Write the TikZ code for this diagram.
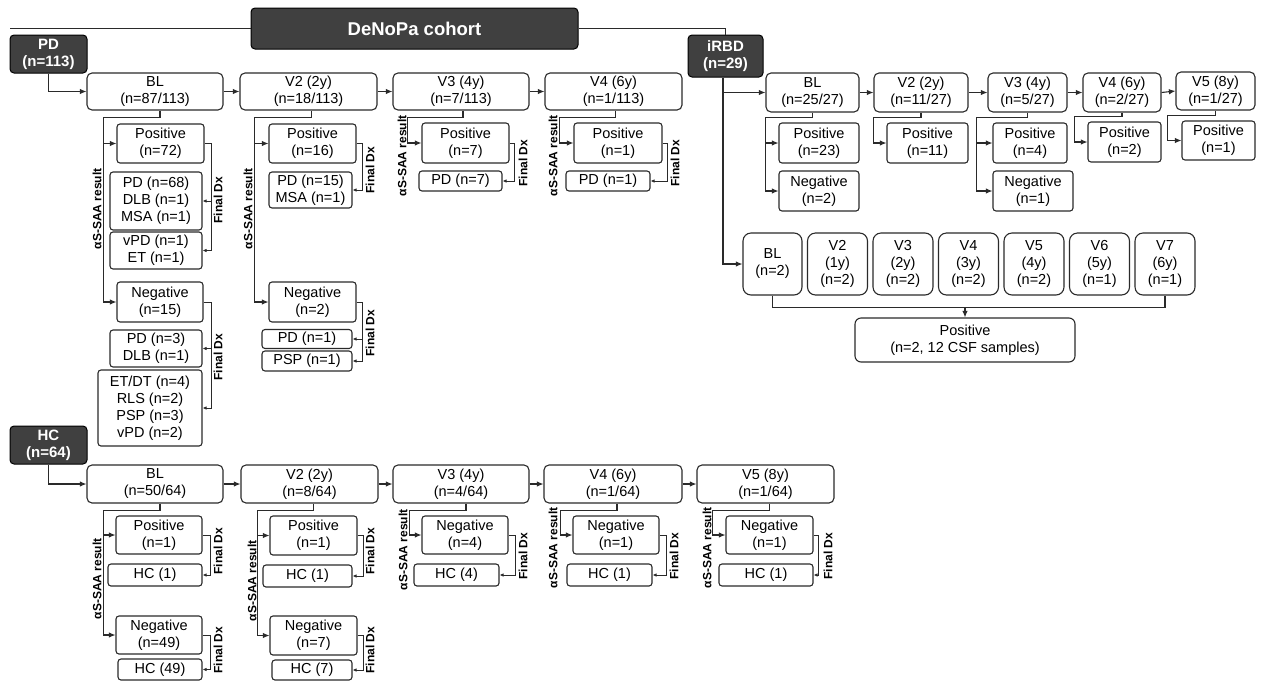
\documentclass[tikz,border=0pt]{standalone}
\usepackage{fontspec}
\setmainfont{Liberation Sans}
\usepackage{tikz}
\usetikzlibrary{positioning}
\usetikzlibrary{arrows.meta}
\definecolor{boxdark}{HTML}{404040}
\definecolor{linegray}{HTML}{2A2A2A}

\begin{document}
\begin{tikzpicture}[
x=1pt, y=-1pt,
darkrect/.style 2 args={rectangle, rounded corners=4pt, draw=black, line width=1pt, fill=boxdark, text=white, align=center, inner sep=0pt, minimum width=#1, minimum height=#2, font=\bfseries\fontsize{15}{17}\selectfont},
rect/.style 2 args={rectangle, rounded corners=5pt, draw=linegray, line width=1.1pt, fill=white, align=center, inner sep=0pt, minimum width=#1, minimum height=#2, font=\fontsize{14.5}{17}\selectfont},
subrect/.style 2 args={rect={#1}{#2}, rounded corners=3pt},
smallrect/.style 2 args={rect={#1}{#2}, rounded corners=8pt},
plain/.style={draw=linegray, line width=1.1pt},
conn/.style={draw=linegray, line width=1.1pt, -{Latex[length=6.5pt,width=5.5pt]}},
dxconn/.style={draw=linegray, line width=0.9pt, -{Latex[length=4pt,width=3.5pt]}},
sidelabel/.style={rotate=90, inner sep=0pt, font=\bfseries\fontsize{12}{12}\selectfont},
]
\useasboundingbox (0,0) rectangle (1261,681);

% cohort header
\node[darkrect={327}{41}, font=\bfseries\fontsize{18.5}{20}\selectfont] (denopa) at (414.5,28.5) {DeNoPa cohort};
\node[darkrect={77}{38}] (pd) at (48.5,54) {PD\\(n=113)};
\node[darkrect={75}{42}] (irbd) at (725.5,56) {iRBD\\(n=29)};
\node[darkrect={77}{38}] (hc) at (48.5,445) {HC\\(n=64)};
\coordinate (topleft) at (10,28.5);
\draw[plain] (topleft) -- (denopa.west);
\draw[plain] (denopa.east) -| (irbd.north);

% PD visits
\node[rect={136}{37}] (pdbl) at (155,91.5) {BL\\(n=87/113)};
\node[rect={137}{37}] (pdv2) at (308.5,91.5) {V2 (2y)\\(n=18/113)};
\node[rect={136}{37}] (pdv3) at (461,91.5) {V3 (4y)\\(n=7/113)};
\node[rect={137}{37}] (pdv4) at (613.5,91.5) {V4 (6y)\\(n=1/113)};
\draw[conn] (pd.south) |- (pdbl.west);
\draw[conn] (pdbl.east) -- (pdv2.west);
\draw[conn] (pdv2.east) -- (pdv3.west);
\draw[conn] (pdv3.east) -- (pdv4.west);

% PD BL
\node[subrect={87}{39}] (pdpos1) at (160.5,143.5) {Positive\\(n=72)};
\node[subrect={92}{58}] (pdfx1a) at (156,201) {PD (n=68)\\DLB (n=1)\\MSA (n=1)};
\node[subrect={92}{37}] (pdfx1b) at (156,250.5) {vPD (n=1)\\ET (n=1)};
\node[subrect={86}{40}] (pdneg1) at (160,302) {Negative\\(n=15)};
\node[subrect={92}{37}] (pdfx1c) at (156,348.5) {PD (n=3)\\DLB (n=1)};
\node[subrect={104}{76}] (pdfx1d) at (150,408) {ET/DT (n=4)\\RLS (n=2)\\PSP (n=3)\\vPD (n=2)};
\draw[conn] ([xshift=5pt]pdbl.south) -- ++(0,7) -| ([xshift=-13pt]pdneg1.west) -- (pdneg1.west);
\draw[conn] ([xshift=-13pt]pdpos1.west) -- (pdpos1.west);
\draw[dxconn] (pdpos1.east) -- ++(7,0) coordinate (pddx1) |- (pdfx1b.east);
\draw[dxconn] (pddx1 |- pdfx1a.east) -- (pdfx1a.east);
\draw[dxconn] (pdneg1.east) -- ++(8,0) coordinate (pddx2) |- (pdfx1d.east);
\draw[dxconn] (pddx2 |- pdfx1c.east) -- (pdfx1c.east);
\node[sidelabel] (pdsaa1) at (97,209) {αS-SAA result};
\node[sidelabel] (pddxl1) at (218,200) {Final Dx};
\node[sidelabel] (pddxl2) at (218,357) {Final Dx};

% PD V2
\node[subrect={87}{39}] (pdpos2) at (312.5,143.5) {Positive\\(n=16)};
\node[subrect={83}{36}] (pdfx2a) at (310.5,190) {PD (n=15)\\MSA (n=1)};
\node[subrect={87}{40}] (pdneg2) at (312.5,302) {Negative\\(n=2)};
\node[subrect={90}{19}] (pdfx2b) at (307,339) {PD (n=1)};
\node[subrect={90}{20}] (pdfx2c) at (307,361) {PSP (n=1)};
\draw[conn] ([xshift=3pt]pdv2.south) -- ++(0,7) -| ([xshift=-14pt]pdneg2.west) -- (pdneg2.west);
\draw[conn] ([xshift=-14pt]pdpos2.west) -- (pdpos2.west);
\draw[dxconn] (pdpos2.east) -- ++(6,0) |- (pdfx2a.east);
\draw[dxconn] (pdneg2.east) -- ++(6,0) coordinate (pddx3) |- (pdfx2c.east);
\draw[dxconn] (pddx3 |- pdfx2b.east) -- (pdfx2b.east);
\node[sidelabel] (pdsaa2) at (248,209) {αS-SAA result};
\node[sidelabel] (pddxl3) at (370,170) {Final Dx};
\node[sidelabel] (pddxl4) at (370,333) {Final Dx};

% PD V3, V4
\node[subrect={87}{40}] (pdpos3) at (465.5,143) {Positive\\(n=7)};
\node[subrect={83}{20}] (pdfx3) at (460.5,181) {PD (n=7)};
\draw[conn] ([xshift=2pt]pdv3.south) -- ++(0,7) -| ([xshift=-14pt]pdpos3.west) -- (pdpos3.west);
\draw[dxconn] (pdpos3.east) -- ++(5,0) |- (pdfx3.east);
\node[sidelabel] (pdsaa3) at (402,156) {αS-SAA result};
\node[sidelabel] (pddxl5) at (523,163) {Final Dx};

\node[subrect={88}{40}] (pdpos4) at (618,143) {Positive\\(n=1)};
\node[subrect={84}{20}] (pdfx4) at (608,181) {PD (n=1)};
\draw[conn] ([xshift=2pt]pdv4.south) -- ++(0,7) -| ([xshift=-14pt]pdpos4.west) -- (pdpos4.west);
\draw[dxconn] (pdpos4.east) -- ++(5,0) |- (pdfx4.east);
\node[sidelabel] (pdsaa4) at (553,156) {αS-SAA result};
\node[sidelabel] (pddxl6) at (675,163) {Final Dx};

% iRBD visits
\node[rect={93}{39}] (rbl) at (812.5,92.5) {BL\\(n=25/27)};
\node[rect={94}{39}] (rv2) at (921,92.5) {V2 (2y)\\(n=11/27)};
\node[rect={79}{39}] (rv3) at (1027.5,92.5) {V3 (4y)\\(n=5/27)};
\node[rect={78}{39}] (rv4) at (1122,92.5) {V4 (6y)\\(n=2/27)};
\node[rect={79}{38}] (rv5) at (1215.5,91) {V5 (8y)\\(n=1/27)};
\draw[conn] (rbl.east) -- (rv2.west);
\draw[conn] (rv2.east) -- (rv3.west);
\draw[conn] (rv3.east) -- (rv4.west);
\draw[conn] (rv4.east) -- (rv5.west);

\node[subrect={80}{40}] (rpos1) at (819,143) {Positive\\(n=23)};
\node[subrect={80}{40}] (rneg1) at (819,191) {Negative\\(n=2)};
\node[subrect={81}{40}] (rpos2) at (927.5,143) {Positive\\(n=11)};
\node[subrect={74}{40}] (rpos3) at (1030,143) {Positive\\(n=4)};
\node[subrect={80}{40}] (rneg3) at (1033,191) {Negative\\(n=1)};
\node[subrect={73}{40}] (rpos4) at (1124.5,142) {Positive\\(n=2)};
\node[subrect={73}{39}] (rpos5) at (1218.5,140.5) {Positive\\(n=1)};
\draw[conn] (rbl.south) -- ++(0,5) -| ([xshift=-13pt]rneg1.west) -- (rneg1.west);
\draw[conn] ([xshift=-13pt]rpos1.west) -- (rpos1.west);
\draw[conn] (rv2.south) -- ++(0,5) -| ([xshift=-13pt]rpos2.west) -- (rpos2.west);
\draw[conn] (rv3.south) -- ++(0,5) -| ([xshift=-16pt]rneg3.west) -- (rneg3.west);
\draw[conn] ([xshift=-16pt]rpos3.west) -- (rpos3.west);
\draw[conn] (rv4.south) -- ++(0,4) -| ([xshift=-13pt]rpos4.west) -- (rpos4.west);
\draw[conn] (rv5.south) -- ++(0,5) -| ([xshift=-14pt]rpos5.west) -- (rpos5.west);

% iRBD CSF samples
\node[smallrect={59}{62}] (sbl) at (772.5,264) {BL\\(n=2)};
\node[smallrect={60}{62}] (sv2) [right=4.4pt of sbl] {V2\\(1y)\\(n=2)};
\node[smallrect={60}{62}] (sv3) [right=4.4pt of sv2] {V3\\(2y)\\(n=2)};
\node[smallrect={60}{62}] (sv4) [right=4.4pt of sv3] {V4\\(3y)\\(n=2)};
\node[smallrect={60}{62}] (sv5) [right=4.4pt of sv4] {V5\\(4y)\\(n=2)};
\node[smallrect={60}{62}] (sv6) [right=4.4pt of sv5] {V6\\(5y)\\(n=1)};
\node[smallrect={60}{62}] (sv7) [right=4.4pt of sv6] {V7\\(6y)\\(n=1)};
\node[subrect={220}{44}, rounded corners=6pt] (spos) at (965,340) {Positive\\(n=2, 12 CSF samples)};
\draw[plain] (sbl.south) -- ++(0,12) coordinate (smerge) -| (sv7.south);
\draw[conn] (smerge -| spos.north) -- (spos.north);
\draw[conn] ([xshift=-2.5pt]irbd.south) |- (rbl.west);
\draw[conn] ([xshift=-2.5pt]irbd.south) |- (sbl.west);

% HC visits
\node[rect={136}{38}] (hbl) at (155,484) {BL\\(n=50/64)};
\node[rect={137}{38}] (hv2) at (309.5,484) {V2 (2y)\\(n=8/64)};
\node[rect={136}{38}] (hv3) at (461,484) {V3 (4y)\\(n=4/64)};
\node[rect={138}{38}] (hv4) at (613,484) {V4 (6y)\\(n=1/64)};
\node[rect={137}{38}] (hv5) at (765.5,484) {V5 (8y)\\(n=1/64)};
\draw[conn] (hc.south) |- (hbl.west);
\draw[conn] (hbl.east) -- (hv2.west);
\draw[conn] (hv2.east) -- (hv3.west);
\draw[conn] (hv3.east) -- (hv4.west);
\draw[conn] (hv4.east) -- (hv5.west);

% HC BL, V2
\node[subrect={86}{38}] (hpos1) at (159,535) {Positive\\(n=1)};
\node[subrect={94}{22}] (hfx1a) at (155,575) {HC (1)};
\node[subrect={86}{38}] (hneg1) at (159,635) {Negative\\(n=49)};
\node[subrect={84}{21}] (hfx1b) at (160,669.5) {HC (49)};
\draw[conn] ([xshift=5pt]hbl.south) -- ++(0,7) -| ([xshift=-12pt]hneg1.west) -- (hneg1.west);
\draw[conn] ([xshift=-12pt]hpos1.west) -- (hpos1.west);
\draw[dxconn] (hpos1.east) -- ++(8,0) |- (hfx1a.east);
\draw[dxconn] (hneg1.east) -- ++(8,0) |- (hfx1b.east);
\node[sidelabel] (hsaa1) at (97,579) {αS-SAA result};
\node[sidelabel] (hdxl1) at (218,551) {Final Dx};
\node[sidelabel] (hdxl2) at (218,650) {Final Dx};

\node[subrect={87}{39}] (hpos2) at (313.5,535.5) {Positive\\(n=1)};
\node[subrect={89}{22}] (hfx2a) at (307.5,576) {HC (1)};
\node[subrect={87}{39}] (hneg2) at (313.5,635.5) {Negative\\(n=7)};
\node[subrect={80}{20}] (hfx2b) at (312,670) {HC (7)};
\draw[conn] ([xshift=4pt]hv2.south) -- ++(0,7) -| ([xshift=-12pt]hneg2.west) -- (hneg2.west);
\draw[conn] ([xshift=-12pt]hpos2.west) -- (hpos2.west);
\draw[dxconn] (hpos2.east) -- ++(6,0) |- (hfx2a.east);
\draw[dxconn] (hneg2.east) -- ++(6,0) |- (hfx2b.east);
\node[sidelabel] (hsaa2) at (252,581) {αS-SAA result};
\node[sidelabel] (hdxl3) at (370,551) {Final Dx};
\node[sidelabel] (hdxl4) at (370,650) {Final Dx};

% HC V3, V4, V5
\node[subrect={86}{38}] (hneg3) at (465,535) {Negative\\(n=4)};
\node[subrect={85}{22}] (hfx3) at (456.5,575) {HC (4)};
\draw[conn] ([xshift=5pt]hv3.south) -- ++(0,7) -| ([xshift=-12pt]hneg3.west) -- (hneg3.west);
\draw[dxconn] (hneg3.east) -- ++(7,0) |- (hfx3.east);
\node[sidelabel] (hsaa3) at (403,550) {αS-SAA result};
\node[sidelabel] (hdxl5) at (523,556) {Final Dx};

\node[subrect={86}{38}] (hneg4) at (616,535) {Negative\\(n=1)};
\node[subrect={85}{22}] (hfx4) at (609.5,575) {HC (1)};
\draw[conn] ([xshift=4pt]hv4.south) -- ++(0,7) -| ([xshift=-12pt]hneg4.west) -- (hneg4.west);
\draw[dxconn] (hneg4.east) -- ++(7,0) |- (hfx4.east);
\node[sidelabel] (hsaa4) at (553,548) {αS-SAA result};
\node[sidelabel] (hdxl6) at (674,556) {Final Dx};

\node[subrect={87}{38}] (hneg5) at (769.5,535) {Negative\\(n=1)};
\node[subrect={94}{22}] (hfx5) at (766,575) {HC (1)};
\draw[conn] ([xshift=4pt]hv5.south) -- ++(0,7) -| ([xshift=-13pt]hneg5.west) -- (hneg5.west);
\draw[dxconn] (hneg5.east) -- ++(5,0) |- (hfx5.east);
\node[sidelabel] (hsaa5) at (707,548) {αS-SAA result};
\node[sidelabel] (hdxl7) at (828,556) {Final Dx};
\end{tikzpicture}
\end{document}
